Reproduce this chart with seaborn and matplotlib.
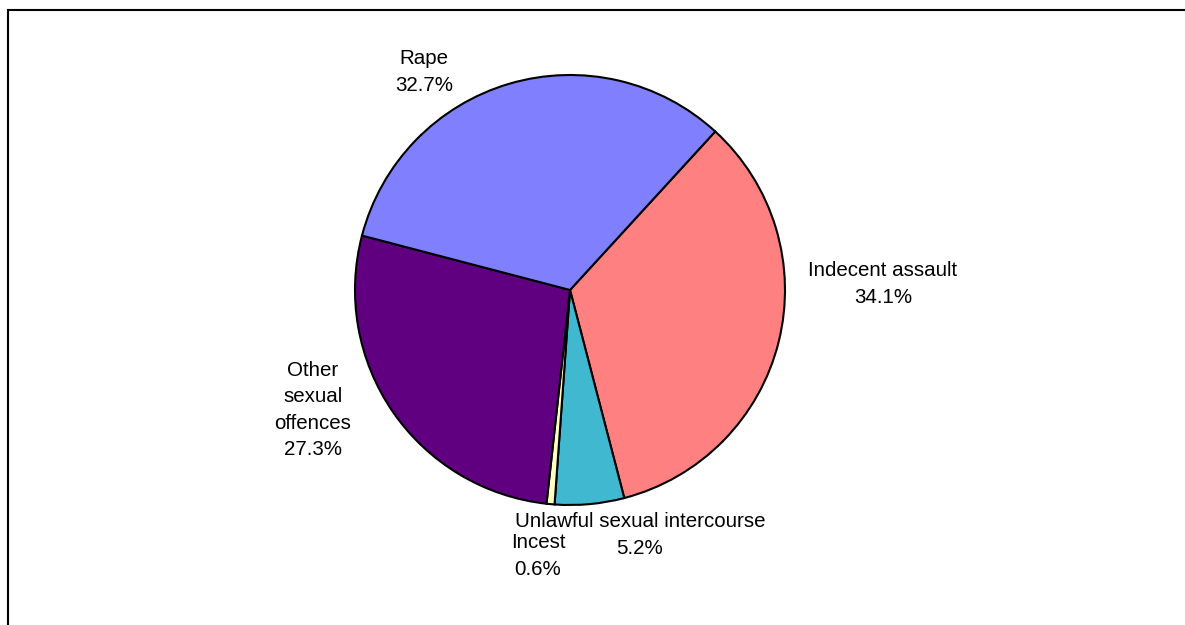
import matplotlib
matplotlib.use("Agg")
import matplotlib.pyplot as plt
import seaborn as sns
from matplotlib.patches import Rectangle

categories = ["Indecent assault", "Unlawful sexual intercourse", "Incest",
              "Other sexual offences", "Rape"]
values = [34.1, 5.2, 0.6, 27.3, 32.7]
label_texts = ["Indecent assault\n34.1%", "Unlawful sexual intercourse\n5.2%",
               "Incest\n0.6%", "Other\nsexual\noffences\n27.3%", "Rape\n32.7%"]
colors = ["#FF8080", "#40B8D0", "#FFFFC0", "#600080", "#8080FF"]
# label centres in pixel coordinates (x, y from top)
label_pos = [(883, 284), (640, 535), (538, 556), (313, 410), (424, 72)]

sns.set_style("white")
plt.rcParams["font.family"] = ["Liberation Sans", "DejaVu Sans"]

W, H = 1185, 625
fig = plt.figure(figsize=(W / 100, H / 100), dpi=100)
ax = fig.add_axes([0, 0, 1, 1])

cx, cy, r = 570, 290, 215
ax.pie(values, colors=colors, startangle=47.5, counterclock=False,
       center=(cx, H - cy), radius=r, frame=True,
       wedgeprops=dict(edgecolor="black", linewidth=1.5))
ax.set_xlim(0, W)
ax.set_ylim(0, H)
ax.set_aspect("equal")
ax.axis("off")

for txt, (x, y) in zip(label_texts, label_pos):
    ax.text(x, H - y, txt, ha="center", va="center", fontsize=14.8,
            linespacing=1.48, color="black")

ax.add_patch(Rectangle((8, -20), W + 20, H - 10 + 20, fill=False,
                       edgecolor="black", linewidth=1.5, clip_on=False))

fig.savefig("out.png", dpi=100, facecolor="white")
